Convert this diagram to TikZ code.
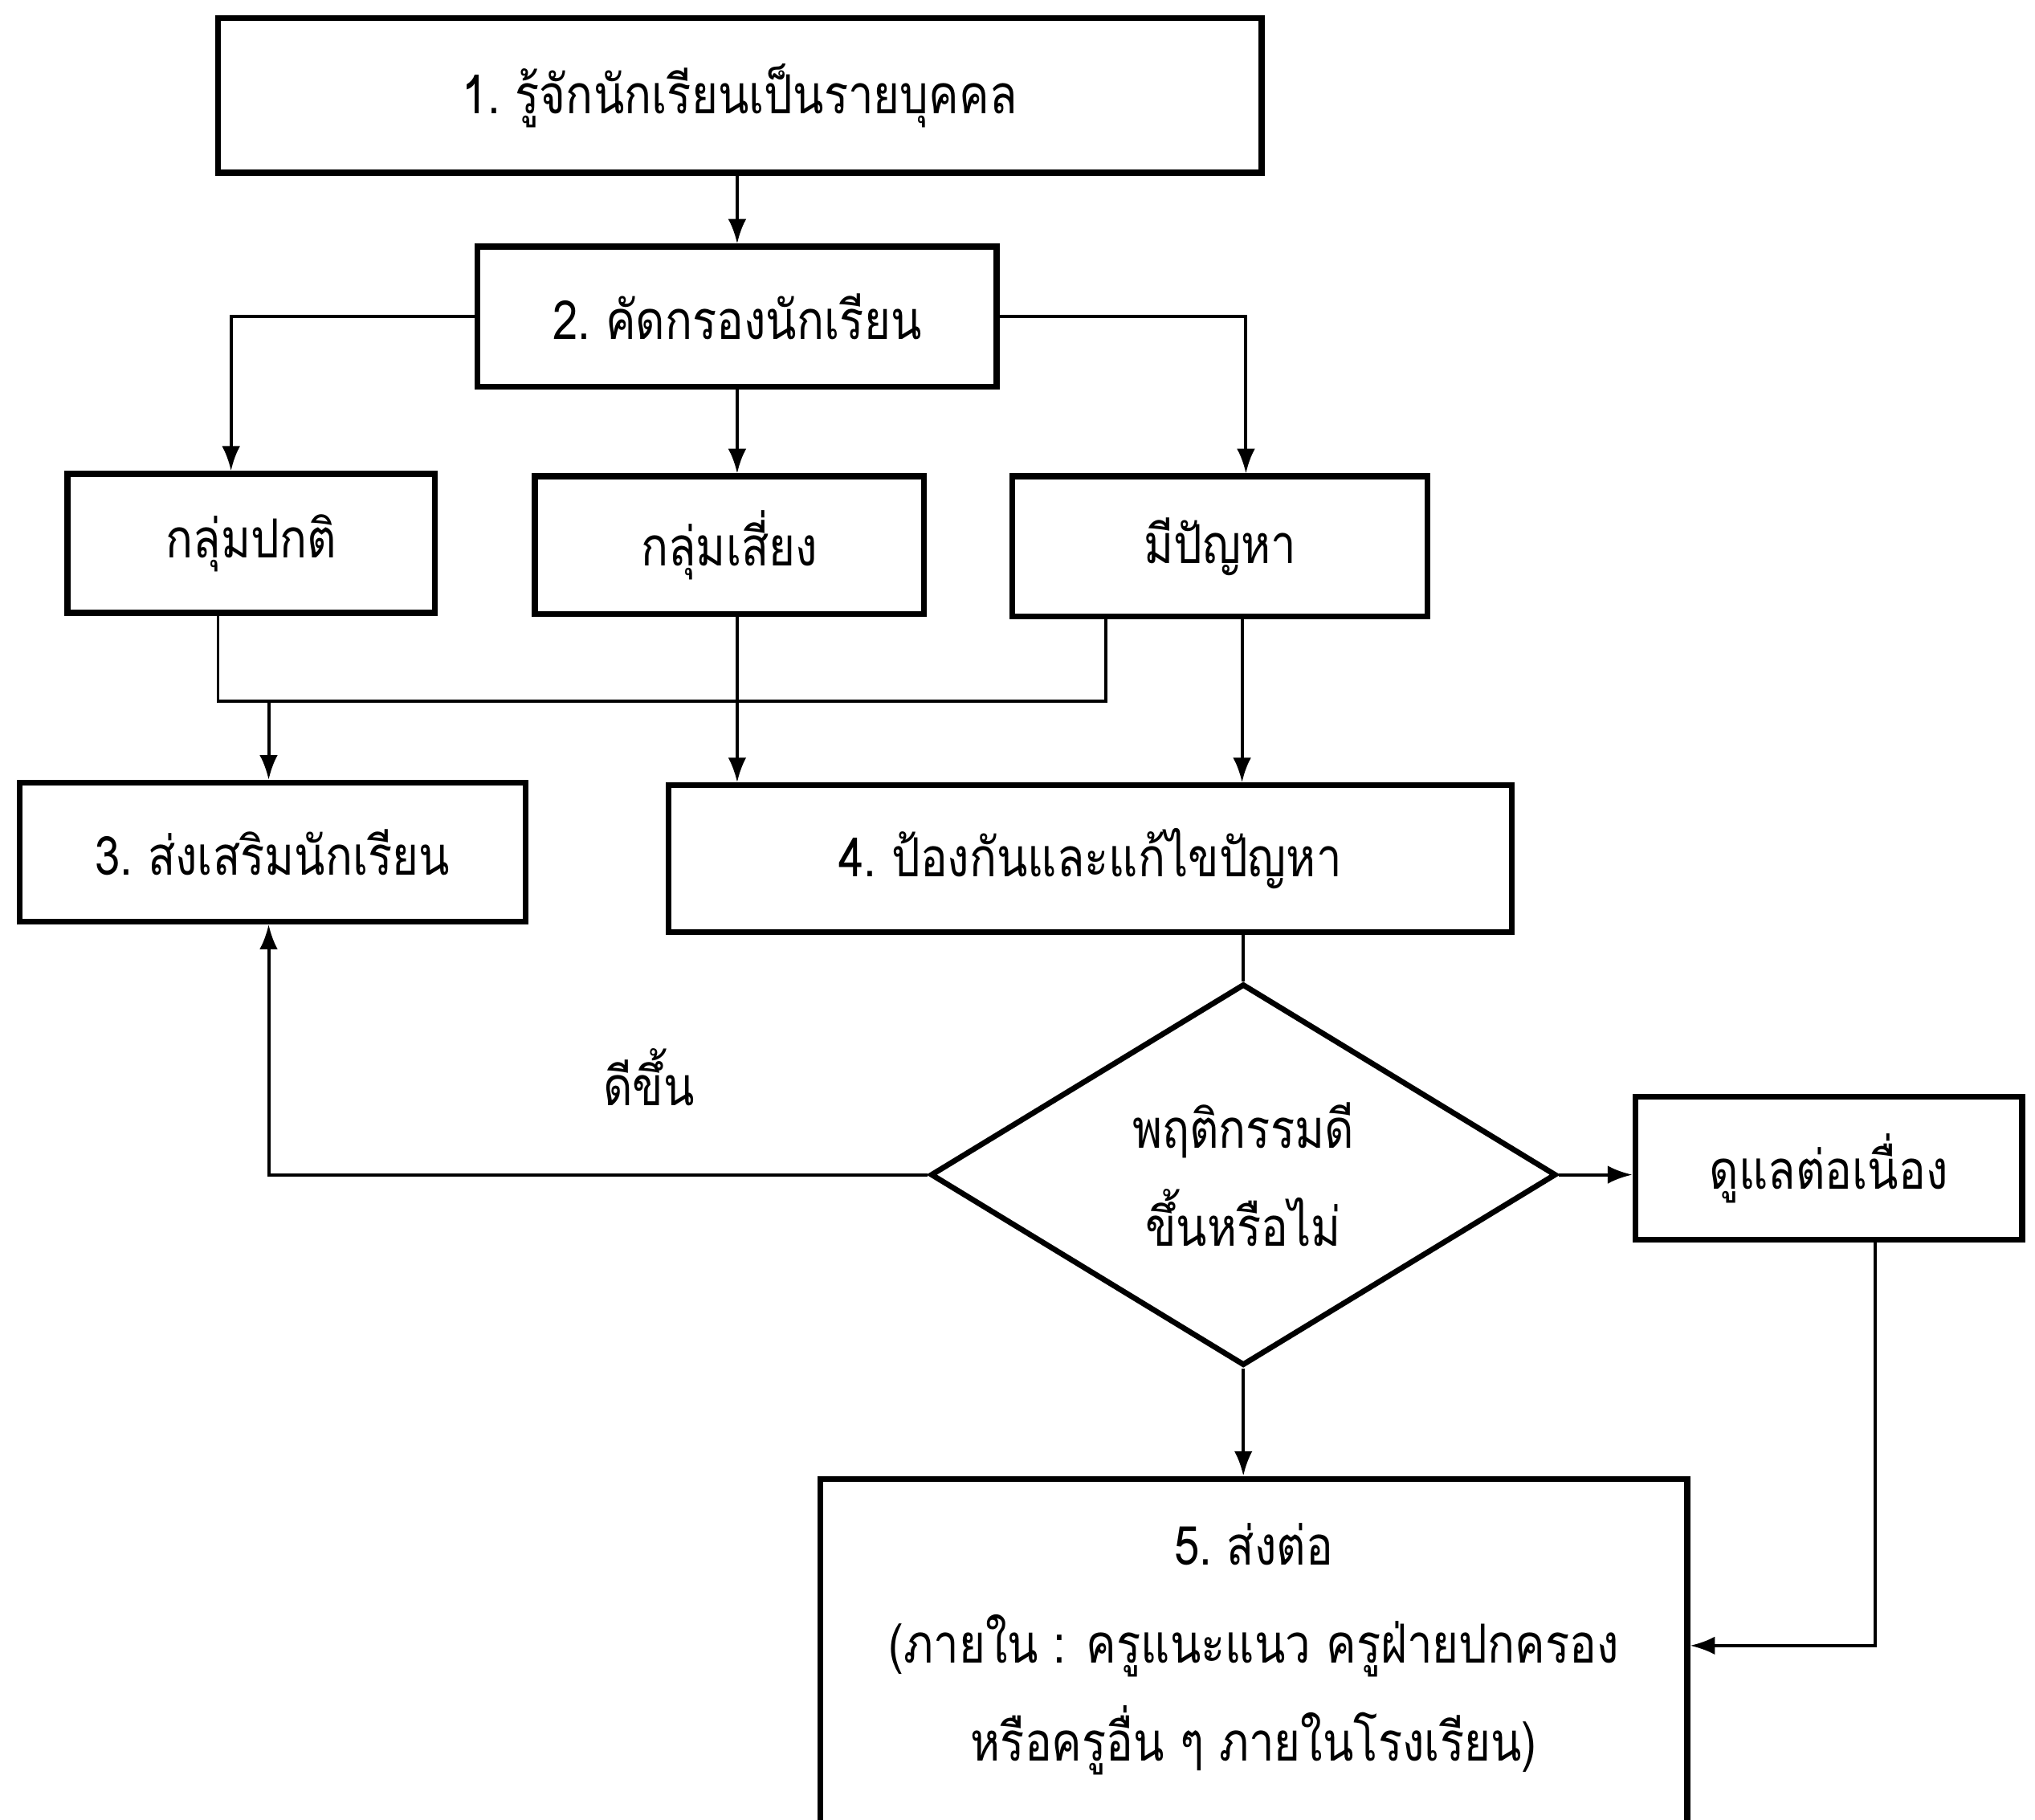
\documentclass[tikz,border=0pt]{standalone}
\usepackage{fontspec}
\newfontfamily\thaifont[Script=Thai,FakeStretch=0.84]{Loma}
\usepackage{tikz}
\usetikzlibrary{arrows.meta, positioning, shapes.geometric}

\begin{document}
\begin{tikzpicture}[font=\thaifont\fontsize{11.8}{21.5}\selectfont,
    stepbox/.style={rectangle, draw, line width=1.3pt, inner sep=0pt},
    link/.style={line width=0.7pt},
    >={Latex[length=1.9mm, width=1.4mm]}]
    \useasboundingbox (0,0) rectangle (15.68,-14.02);
    % Add the boxes
        \node[stepbox,
              minimum width=8.04cm,
              minimum height=1.19cm] (know) at (5.70,-0.735) {1.~รู้จักนักเรียนเป็นรายบุคคล};
        \node[stepbox,
              minimum width=4.00cm,
              minimum height=1.08cm] (screen) at (5.68,-2.44) {2.~คัดกรองนักเรียน};
        \node[stepbox,
              minimum width=2.83cm,
              minimum height=1.07cm] (normal) at (1.935,-4.185) {กลุ่มปกติ};
        \node[stepbox,
              minimum width=3.00cm,
              minimum height=1.06cm] (risk) at (5.62,-4.20) {กลุ่มเสี่ยง};
        \node[stepbox,
              minimum width=3.20cm,
              minimum height=1.08cm] (problem) at (9.40,-4.21) {มีปัญหา};
        \node[stepbox,
              minimum width=3.90cm,
              minimum height=1.07cm] (promote) at (2.10,-6.565) {3.~ส่งเสริมนักเรียน};
        \node[stepbox,
              minimum width=6.50cm,
              minimum height=1.13cm] (prevent) at (8.40,-6.615) {4.~ป้องกันและแก้ไขปัญหา};
        \node[diamond,
              draw,
              line width=1.2pt,
              inner sep=0pt,
              shape aspect=1.64,
              minimum width=4.82cm,
              minimum height=2.94cm,
              align=center] (decide) at (9.58,-9.05) {พฤติกรรมดี\\ขึ้นหรือไม่};
        \node[stepbox,
              minimum width=2.98cm,
              minimum height=1.10cm] (care) at (14.09,-9.00) {ดูแลต่อเนื่อง};
        \node[stepbox,
              anchor=north,
              minimum width=6.68cm,
              minimum height=3.45cm] (refer) at (9.66,-11.37) {};
        \node[align=center,
              below=0.24cm of refer.north] (refertext)
              {5.~ส่งต่อ\\(ภายใน : ครูแนะแนว~ครูฝ่ายปกครอง\\หรือครูอื่น ๆ~ภายในโรงเรียน)};
        \node (better) at (5.00,-8.30) {ดีขึ้น};
        \coordinate (join) at (5.00,-5.40);

    % Add the connectors
       \draw[link, ->] (know.south -| screen.north) -- (screen.north);
       \draw[link, ->] (screen.west) -| ([xshift=-0.155cm]normal.north);
       \draw[link, ->] (screen.south) -- (screen.south |- risk.north);
       \draw[link, ->] (screen.east) -| ([xshift=0.20cm]problem.north);
       \draw[link] ([xshift=-0.255cm]normal.south) |- (join) -| ([xshift=-0.88cm]problem.south);
       \draw[link, ->] ([xshift=-0.03cm]promote.north |- join) -- ([xshift=-0.03cm]promote.north);
       \draw[link, ->] (screen.south |- risk.south) -- (screen.south |- prevent.north);
       \draw[link, ->] ([xshift=0.17cm]problem.south) -- ([xshift=0.17cm]problem.south |- prevent.north);
       \draw[link] (decide.north |- prevent.south) -- (decide.north);
       \draw[link, ->] (decide.west) -| ([xshift=-0.03cm]promote.south);
       \draw[link, ->] (decide.east) -- (decide.east -| care.west);
       \draw[link, ->] (decide.south) -- (decide.south |- refer.north);
       \draw[link, ->] ([xshift=0.36cm]care.south) |- ([yshift=0.44cm]refer.east);
    \end{tikzpicture}
\end{document}
